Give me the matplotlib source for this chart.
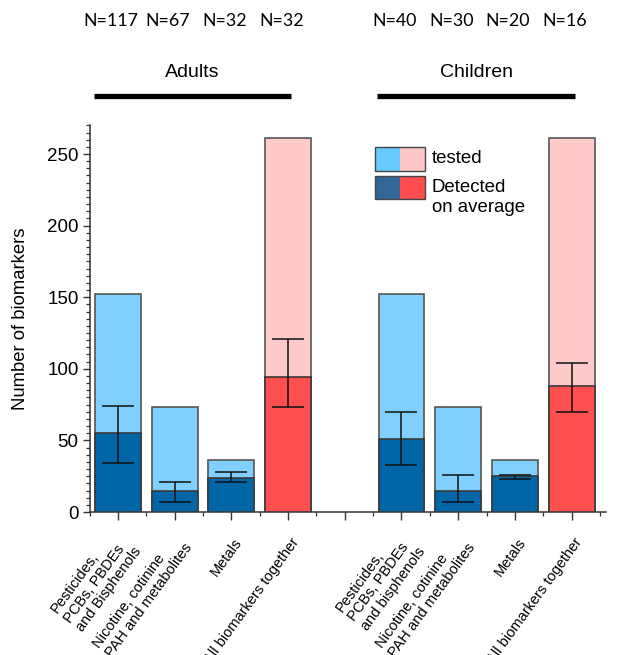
import numpy as np
import matplotlib
matplotlib.use("Agg")
import matplotlib.pyplot as plt
import matplotlib.transforms as mtransforms
from matplotlib.patches import Rectangle
from matplotlib.ticker import MultipleLocator, FixedLocator

plt.rcParams["font.family"] = ["Liberation Sans", "DejaVu Sans"]

# ── data ──────────────────────────────────────────────────────
groups = ["Adults", "Children"]
labels_adults = ["Pesticides,\nPCBs, PBDEs\nand Bisphenols",
                 "Nicotine, cotinine\nPAH and metabolites",
                 "Metals",
                 "All biomarkers together"]
labels_children = ["Pesticides,\nPCBs, PBDEs\nand bisphenols",
                   "Nicotine, cotinine\nPAH and metabolites",
                   "Metals",
                   "All biomarkers together"]
n_adults = [117, 67, 32, 32]
n_children = [40, 30, 20, 16]
tested_adults = [152, 73, 36, 261]
tested_children = [152, 73, 36, 261]
detected_adults = [55, 15, 24, 94]
detected_children = [51, 15, 25, 88]
# error bar ends (lower / upper)
err_lo_adults = [34, 7, 21, 73]
err_hi_adults = [74, 21, 28, 121]
err_lo_children = [33, 7, 23, 70]
err_hi_children = [70, 26, 26, 104]

# ── style ─────────────────────────────────────────────────────
LIGHT_BLUE, DARK_BLUE = "#80CFFF", "#0066A8"
PINK, RED = "#FFCACA", "#FF5050"
EDGE = "#3a3a3a"

fig = plt.figure(figsize=(6.25, 6.55), dpi=100)
ax = fig.add_axes([0.1434, 0.2183, 0.8256, 0.5903])

pos_adults = np.arange(4)
pos_children = np.arange(4) + 5
width = 0.81

for pos, tested, det, lo, hi in [
        (pos_adults, tested_adults, detected_adults, err_lo_adults, err_hi_adults),
        (pos_children, tested_children, detected_children, err_lo_children, err_hi_children)]:
    light = [LIGHT_BLUE] * 3 + [PINK]
    dark = [DARK_BLUE] * 3 + [RED]
    ax.bar(pos, tested, width, color=light, edgecolor="#555555", lw=1.2, zorder=2)
    ax.bar(pos, det, width, color=dark, edgecolor=EDGE, lw=1.2, zorder=3)
    det = np.array(det)
    yerr = [det - np.array(lo), np.array(hi) - det]
    ax.errorbar(pos, det, yerr=yerr, fmt="none", ecolor="#111111",
                elinewidth=1.1, capsize=11.5, capthick=1.1, zorder=4)

# axes
ax.set_xlim(-0.5, 8.6)
ax.set_ylim(0, 270)
for s in ["top", "right"]:
    ax.spines[s].set_visible(False)
for s in ["left", "bottom"]:
    ax.spines[s].set_color("#333333")
    ax.spines[s].set_linewidth(1.1)

ax.yaxis.set_major_locator(MultipleLocator(50))
ax.yaxis.set_minor_locator(MultipleLocator(5))
ax.tick_params(axis="y", which="major", length=5, width=1, labelsize=13.5,
               color="#333333", pad=3)
ax.tick_params(axis="y", which="minor", length=3, width=0.9, color="#333333")
ax.set_ylabel("Number of biomarkers", fontsize=13.3, labelpad=13)

xt = list(pos_adults) + [4] + list(pos_children)
ax.xaxis.set_major_locator(FixedLocator(xt))
ax.xaxis.set_minor_locator(FixedLocator(np.arange(-0.5, 9.0, 1.0)))
ax.set_xticklabels(labels_adults + [""] + labels_children)
ax.tick_params(axis="x", which="major", length=6, width=1, color="#333333",
               labelsize=10.5, pad=14)
ax.tick_params(axis="x", which="minor", length=3, width=0.9, color="#333333")
shift = mtransforms.ScaledTranslation(8 / 100, 0, fig.dpi_scale_trans)
for t in ax.get_xticklabels():
    t.set_rotation(54)
    t.set_rotation_mode("anchor")
    t.set_ha("right")
    t.set_va("center")
    t.set_multialignment("left")
    t.set_linespacing(1.15)
    t.set_transform(t.get_transform() + shift)

# group headers above the plot
trans = mtransforms.blended_transform_factory(ax.transData, fig.transFigure)
for name, pos, ns in [("Adults", pos_adults, n_adults),
                      ("Children", pos_children, n_children)]:
    x0, x1 = pos[0] - 0.43, pos[-1] + 0.06
    ax.plot([x0, x1], [0.853, 0.853], color="black", lw=3.8,
            solid_capstyle="butt", transform=trans, clip_on=False)
    ax.text((x0 + x1) / 2, 0.890, name, transform=trans, ha="center",
            va="center", fontsize=14)
    for p, n in zip(pos, ns):
        ax.text(p - 0.12, 0.968, f"N={n}", transform=trans, ha="center",
                va="center", fontsize=12.8, family=["Lato", "DejaVu Sans"])

# legend drawn as split swatches
bw, bh = 0.0484, 0.061
lx = 0.553
for yb, left_c, right_c in [(0.883, "#66CCFF", "#FFC8C8"),
                            (0.809, "#336699", "#FF4D4D")]:
    ax.add_patch(Rectangle((lx, yb), bw, bh, transform=ax.transAxes,
                           facecolor=left_c, edgecolor="none", clip_on=False, zorder=5))
    ax.add_patch(Rectangle((lx + bw, yb), bw, bh, transform=ax.transAxes,
                           facecolor=right_c, edgecolor="none", clip_on=False, zorder=5))
    ax.add_patch(Rectangle((lx, yb), 2 * bw, bh, transform=ax.transAxes,
                           facecolor="none", edgecolor="#444444", lw=1.0,
                           clip_on=False, zorder=6))
ax.text(0.663, 0.903, "tested", transform=ax.transAxes, fontsize=13.4,
        va="baseline", ha="left")
ax.text(0.663, 0.828, "Detected", transform=ax.transAxes, fontsize=13.4,
        va="baseline", ha="left")
ax.text(0.663, 0.777, "on average", transform=ax.transAxes, fontsize=13.4,
        va="baseline", ha="left")

fig.savefig("out.png", dpi=100)
